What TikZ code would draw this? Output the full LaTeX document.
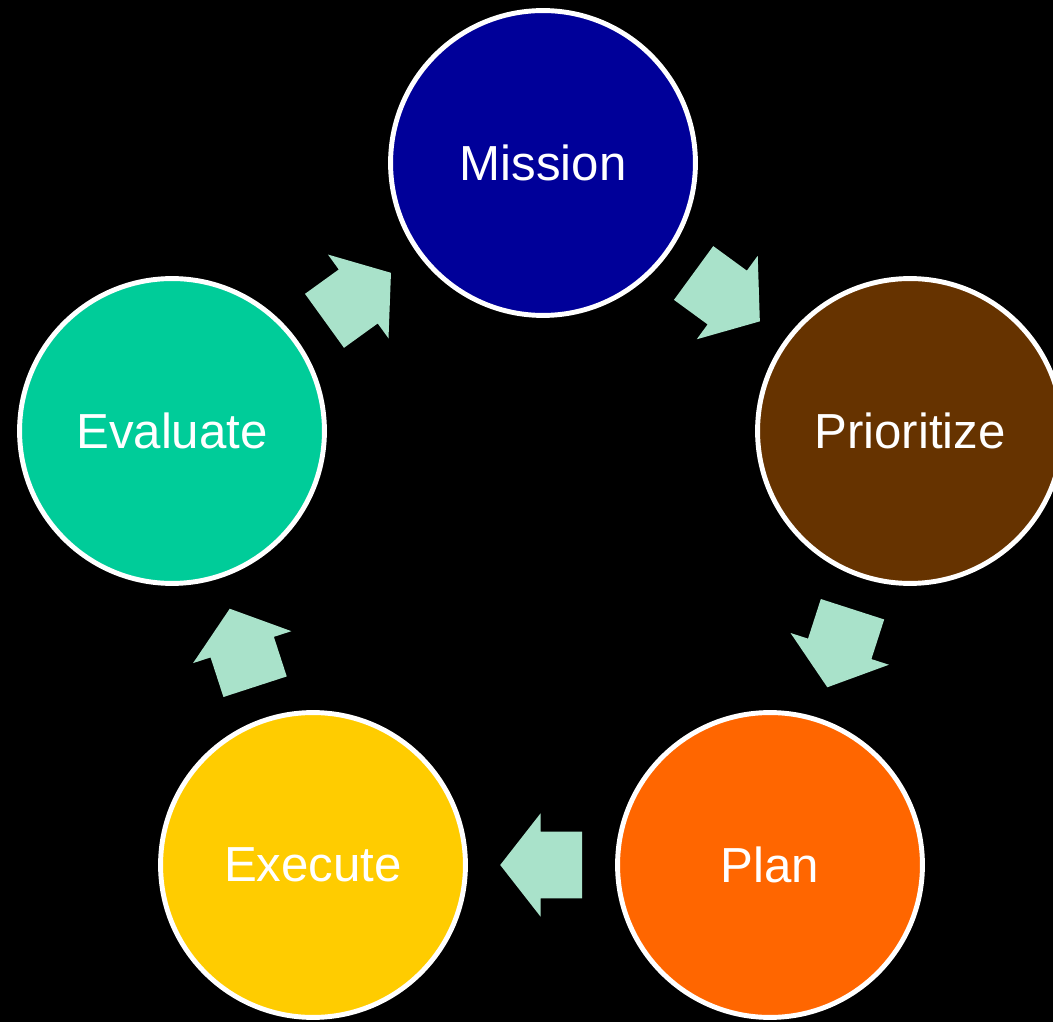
\documentclass[tikz,border=0pt]{standalone}
\usepackage{fontspec}
\setmainfont{Liberation Sans}
\usetikzlibrary{shapes.arrows,calc}

\definecolor{missionblue}{HTML}{000099}
\definecolor{prioritybrown}{HTML}{663300}
\definecolor{planorange}{HTML}{FF6600}
\definecolor{executeyellow}{HTML}{FFCC00}
\definecolor{evaluategreen}{HTML}{00CC99}
\definecolor{flowmint}{HTML}{A9E2CA}

\tikzset{
  stage/.style={circle, draw=white, line width=3.5pt, minimum size=7.62cm,
    inner sep=0pt, text=white, font=\fontsize{35}{42}\selectfont},
  flow/.style={single arrow, fill=flowmint, draw=none,
    inner xsep=0pt, inner ysep=0.825cm, minimum height=2.05cm,
    single arrow head extend=0.46cm, single arrow tip angle=104}
}

% block arrow centred between two stages, pointing from #1 to #2
\newcommand{\flowarrow}[2]{%
  \path let \p1=($(#2)-(#1)$), \n1={atan2(\y1,\x1)} in
    node[flow, rotate=\n1, anchor=tail] at ($(#1)!0.5!(#2)!1.025cm!(#1)$) {};}

\begin{document}
\begin{tikzpicture}[x=0.025cm,y=0.025cm]
  \fill[black] (0,0) rectangle (1053,1022);
  \useasboundingbox (0,0) rectangle (1053,1022);

  \node[stage, fill=missionblue] (mission) at (543,859) {Mission};
  \node[stage, fill=prioritybrown] (prior) at (910,591) {Prioritize};
  \node[stage, fill=planorange] (plan) at (770,157) {Plan};
  \node[stage, fill=executeyellow] (execute) at (313,157) {Execute};
  \node[stage, fill=evaluategreen] (evaluate) at (172,591) {Evaluate};

  \flowarrow{mission}{prior}
  \flowarrow{prior}{plan}
  \flowarrow{plan}{execute}
  \flowarrow{execute}{evaluate}
  \flowarrow{evaluate}{mission}
\end{tikzpicture}
\end{document}
